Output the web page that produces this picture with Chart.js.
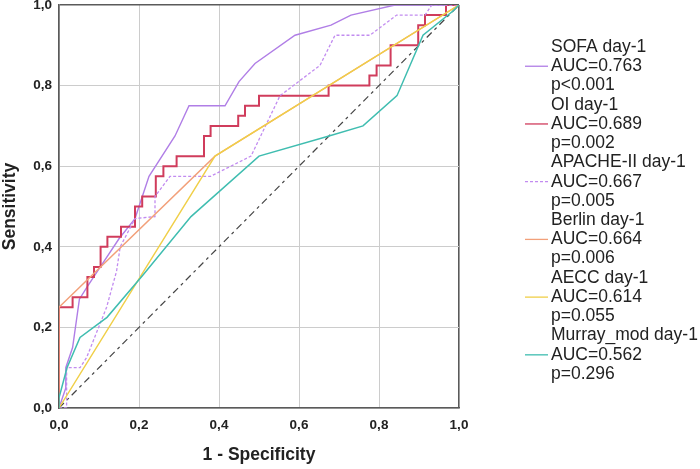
<!DOCTYPE html>
<html>
<head>
<meta charset="utf-8">
<script src="https://cdn.jsdelivr.net/npm/chart.js@4.4.0/dist/chart.umd.min.js"></script>
<style>
  html, body { margin: 0; padding: 0; background: #fff; }
  #wrap { width: 700px; height: 469px; }
</style>
</head>
<body>
<div id="wrap"><canvas id="roc" width="700" height="469"></canvas></div>
<script>
// ROC curves, values (1 - specificity / sensitivity)
const sofaFpr = [0, 0.017, 0.017, 0.034, 0.051, 0.07, 0.10, 0.15, 0.19, 0.225, 0.29, 0.325, 0.415, 0.45, 0.49, 0.59, 0.68, 0.73, 0.84, 1];
const sofaTpr = [0, 0.05, 0.10, 0.15, 0.27, 0.30, 0.345, 0.42, 0.47, 0.575, 0.675, 0.75, 0.75, 0.81, 0.855, 0.925, 0.95, 0.975, 1, 1];

const oiFpr = [0, 0, 0.034, 0.034, 0.071, 0.071, 0.0875, 0.0875, 0.104, 0.104, 0.121, 0.121, 0.155, 0.155, 0.19, 0.19, 0.208, 0.208, 0.242, 0.242, 0.261, 0.261, 0.294, 0.294, 0.3625, 0.3625, 0.379, 0.379, 0.448, 0.448, 0.465, 0.465, 0.50, 0.50, 0.674, 0.674, 0.776, 0.776, 0.794, 0.794, 0.829, 0.829, 0.898, 0.898, 0.915, 0.915, 0.9675, 0.9675, 1];
const oiTpr = [0, 0.25, 0.25, 0.275, 0.275, 0.325, 0.325, 0.35, 0.35, 0.40, 0.40, 0.425, 0.425, 0.45, 0.45, 0.50, 0.50, 0.525, 0.525, 0.575, 0.575, 0.60, 0.60, 0.625, 0.625, 0.675, 0.675, 0.70, 0.70, 0.725, 0.725, 0.75, 0.75, 0.775, 0.775, 0.80, 0.80, 0.825, 0.825, 0.85, 0.85, 0.90, 0.90, 0.95, 0.95, 0.975, 0.975, 1, 1];

const apacheFpr = [0, 0.019, 0.019, 0.0525, 0.069, 0.119, 0.144, 0.153, 0.19, 0.24, 0.24, 0.2775, 0.379, 0.48, 0.5525, 0.6525, 0.69, 0.7775, 0.844, 0.915, 0.932, 1];
const apacheTpr = [0, 0, 0.10, 0.10, 0.125, 0.25, 0.34, 0.40, 0.47, 0.475, 0.525, 0.575, 0.575, 0.625, 0.775, 0.85, 0.925, 0.925, 0.975, 0.975, 1, 1];

const berlinFpr = [0, 0, 0.39, 1];
const berlinTpr = [0, 0.25, 0.625, 1];

const aeccFpr = [0, 0.39, 1];
const aeccTpr = [0, 0.625, 1];

const murrayFpr = [0, 0, 0.02, 0.0525, 0.12, 0.21, 0.33, 0.50, 0.675, 0.76, 0.845, 0.91, 0.985, 1];
const murrayTpr = [0, 0.025, 0.10, 0.175, 0.225, 0.33, 0.475, 0.625, 0.675, 0.70, 0.775, 0.925, 0.985, 1];

const refFpr = [0, 1];
const refTpr = [0, 1];

const tickLabels = ['0,0', '0,2', '0,4', '0,6', '0,8', '1,0'];

const legendLabels = [
  ['SOFA day-1', 'AUC=0.763', 'p<0.001'],
  ['OI day-1', 'AUC=0.689', 'p=0.002'],
  ['APACHE-II day-1', 'AUC=0.667', 'p=0.005'],
  ['Berlin day-1', 'AUC=0.664', 'p=0.006'],
  ['AECC day-1', 'AUC=0.614', 'p=0.055'],
  ['Murray_mod day-1', 'AUC=0.562', 'p=0.296']
];

const FONT = "'Liberation Sans', Arial, sans-serif";

function pts(xs, ys) {
  return xs.map((x, i) => ({ x: x, y: ys[i] }));
}

function curve(label, xs, ys, color, width, dash, order) {
  return {
    label: label,
    data: pts(xs, ys),
    borderColor: color,
    backgroundColor: color,
    borderWidth: width,
    borderDash: dash,
    pointRadius: 0,
    tension: 0,
    fill: false,
    order: order
  };
}

const datasets = [
  curve(legendLabels[0][0], sofaFpr, sofaTpr, '#b07ee6', 1.4, [], 6),
  curve(legendLabels[1][0], oiFpr, oiTpr, '#d03c5c', 2, [], 5),
  curve(legendLabels[2][0], apacheFpr, apacheTpr, '#c28cf0', 1.3, [3, 2], 4),
  curve(legendLabels[3][0], berlinFpr, berlinTpr, '#f2a07a', 1.4, [], 3),
  curve(legendLabels[4][0], aeccFpr, aeccTpr, '#f0cf48', 1.4, [], 2),
  curve(legendLabels[5][0], murrayFpr, murrayTpr, '#3fbdb0', 1.5, [], 1),
  curve('reference', refFpr, refTpr, '#444444', 1.2, [7, 4, 3, 4], 7)
];

// legend drawn by hand: multi-line entries, sample line on the middle line
const rocLegend = {
  id: 'rocLegend',
  afterDraw(chart) {
    const ctx = chart.ctx;
    ctx.save();
    ctx.font = '17.5px ' + FONT;
    ctx.fillStyle = '#222';
    ctx.textBaseline = 'middle';
    ctx.textAlign = 'left';
    legendLabels.forEach((lines, i) => {
      const ds = chart.data.datasets[i];
      lines.forEach((txt, j) => {
        const y = 47 + (i * 3 + j) * 19.24;
        ctx.fillText(txt, 551, y);
        if (j === 1) {
          ctx.beginPath();
          ctx.strokeStyle = ds.borderColor;
          ctx.lineWidth = 1.3;
          ctx.setLineDash(ds.borderDash);
          ctx.moveTo(525, y);
          ctx.lineTo(548, y);
          ctx.stroke();
          ctx.setLineDash([]);
        }
      });
    });
    ctx.restore();
  }
};

function gridColor(c) {
  return Math.abs(c.tick.value - 1) < 1e-6 ? '#5a5a5a' : '#cccccc';
}
function gridWidth(c) {
  return Math.abs(c.tick.value - 1) < 1e-6 ? 1.6 : 1;
}

new Chart(document.getElementById('roc'), {
  type: 'line',
  data: { datasets: datasets },
  plugins: [rocLegend],
  options: {
    responsive: false,
    animation: false,
    layout: { padding: { top: 5, right: 241, left: 0, bottom: 0 } },
    plugins: {
      legend: { display: false },
      tooltip: { enabled: false }
    },
    scales: {
      x: {
        type: 'linear',
        min: 0, max: 1,
        grid: { color: gridColor, lineWidth: gridWidth, drawTicks: false },
        border: { color: '#5a5a5a', width: 1.6 },
        ticks: {
          stepSize: 0.2,
          padding: 9,
          color: '#222',
          font: { family: FONT, size: 13.5, weight: 'bold' },
          callback: (v, i) => tickLabels[i]
        },
        title: {
          display: true,
          text: '1 - Specificity',
          color: '#222',
          font: { family: FONT, size: 17.5, weight: 'bold' },
          padding: { top: 0, bottom: 3.5 }
        },
        afterFit(scale) {
          scale.height = 61;
          scale.paddingLeft = 0;
          scale.paddingRight = 0;
        }
      },
      y: {
        type: 'linear',
        min: 0, max: 1,
        grid: { color: gridColor, lineWidth: gridWidth, drawTicks: false },
        border: { color: '#5a5a5a', width: 1.6 },
        ticks: {
          stepSize: 0.2,
          padding: 7,
          color: '#222',
          font: { family: FONT, size: 13.5, weight: 'bold' },
          callback: (v, i) => tickLabels[i]
        },
        title: {
          display: true,
          text: 'Sensitivity',
          color: '#222',
          font: { family: FONT, size: 17.5, weight: 'bold' },
          padding: { top: 0, bottom: 0 }
        },
        afterFit(scale) {
          scale.width = 59;
          scale.paddingTop = 0;
          scale.paddingBottom = 0;
        }
      }
    }
  }
});
</script>
</body>
</html>
